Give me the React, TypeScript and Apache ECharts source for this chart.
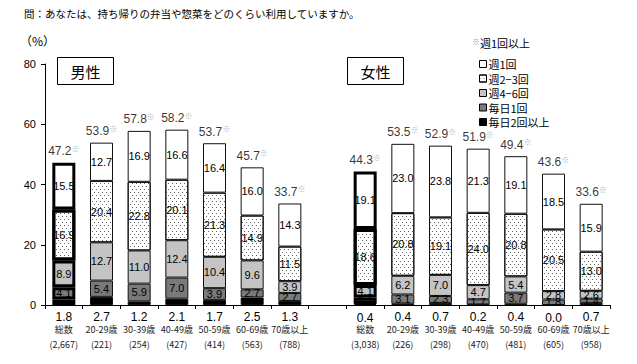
import React, { useEffect, useRef } from "react";
import * as echarts from "echarts";

const ageGroups = ["総数", "20-29歳", "30-39歳", "40-49歳", "50-59歳", "60-69歳", "70歳以上"];
const maleCounts = ["2,667", "221", "254", "427", "414", "563", "788"];
const femaleCounts = ["3,038", "226", "298", "470", "481", "605", "958"];

const seriesNames = ["毎日2回以上", "毎日1回", "週4−6回", "週2−3回", "週1回"];

const maleDaily2 = [1.8, 2.7, 1.2, 2.1, 1.7, 2.5, 1.3];
const maleDaily1 = [4.1, 5.4, 5.9, 7.0, 3.9, 2.7, 2.7];
const maleWeek46 = [8.9, 12.7, 11.0, 12.4, 10.4, 9.6, 3.9];
const maleWeek23 = [16.9, 20.4, 22.8, 20.1, 21.3, 14.9, 11.5];
const maleWeek1 = [15.5, 12.7, 16.9, 16.6, 16.4, 16.0, 14.3];
const maleTotal = [47.2, 53.9, 57.8, 58.2, 53.7, 45.7, 33.7];

const femaleDaily2 = [0.4, 0.4, 0.7, 0.2, 0.4, 0.0, 0.7];
const femaleDaily1 = [2.1, 3.1, 2.3, 1.7, 3.7, 1.8, 1.4];
const femaleWeek46 = [4.1, 6.2, 7.0, 4.7, 5.4, 2.8, 2.6];
const femaleWeek23 = [18.6, 20.8, 19.1, 24.0, 20.8, 20.5, 13.0];
const femaleWeek1 = [19.1, 23.0, 23.8, 21.3, 19.1, 18.5, 15.9];
const femaleTotal = [44.3, 53.5, 52.9, 51.9, 49.4, 43.6, 33.6];

const yTicks = [0, 20, 40, 60, 80];

const FONT_JP = '"Noto Sans CJK JP", "Noto Sans", sans-serif';
const FONT_NUM = '"Liberation Sans", Arial, sans-serif';

export default function App() {
  const ref = useRef<HTMLDivElement>(null);

  useEffect(() => {
    document.body.style.margin = "0";
    if (!ref.current) return;
    const chart = echarts.init(ref.current, null, { renderer: "svg" });

    const categories = [...ageGroups, "", ...ageGroups];
    const counts = [...maleCounts, "", ...femaleCounts];
    const totalIdx = new Set([0, 8]);
    const join = (m: number[], f: number[]) => [...m, null, ...f];

    const segData = [
      join(maleDaily2, femaleDaily2),
      join(maleDaily1, femaleDaily1),
      join(maleWeek46, femaleWeek46),
      join(maleWeek23, femaleWeek23),
      join(maleWeek1, femaleWeek1),
    ];
    const totals = join(maleTotal, femaleTotal);

    const fills = ["#000000", "#7a7a7a", "#c4c4c4", "#ffffff", "#ffffff"];

    const barSeries = segData.map((arr, si) => {
      const base: any = {
        name: seriesNames[si],
        type: "bar",
        stack: "s",
        barWidth: 23,
        itemStyle: {
          color: fills[si],
          borderColor: "#111",
          borderWidth: 1,
        },
        data: arr.map((v, i) =>
          v === null
            ? null
            : {
                value: v,
                itemStyle: totalIdx.has(i) ? { borderWidth: 3, borderColor: "#000" } : undefined,
              }
        ),
        label: {
          show: true,
          position: si === 0 ? "bottom" : "inside",
          distance: si === 0 ? 6 : 5,
          fontSize: si === 0 ? 12 : 11,
          fontFamily: FONT_NUM,
          color: "#000",
          formatter: (p: any) => (p.value === null || p.value === undefined ? "" : Number(p.value).toFixed(1)),
        },
      };
      if (si === 3) {
        base.itemStyle.decal = {
          symbol: "rect",
          symbolSize: 1,
          color: "#666",
          backgroundColor: "#ffffff",
          dashArrayX: [[1, 3], [0, 2, 1, 1]],
          dashArrayY: [1, 2],
          rotation: 0,
        };
      }
      return base;
    });

    const option: any = {
      animation: false,
      backgroundColor: "#ffffff",
      textStyle: { fontFamily: FONT_JP },
      grid: { left: 45, right: 27, top: 64, bottom: 59 },
      legend: {
        data: [...seriesNames].reverse(),
        orient: "vertical",
        left: 474,
        top: 53,
        itemWidth: 7,
        itemHeight: 7,
        itemGap: 2.5,
        selectedMode: false,
        icon: "rect",
        itemStyle: { borderWidth: 1, borderColor: "#000" },
        textStyle: { fontSize: 11, color: "#000", fontFamily: FONT_JP, lineHeight: 12, padding: [0, 0, 0, -3] },
      },
      xAxis: {
        type: "category",
        data: categories,
        axisLine: { show: true, lineStyle: { color: "#000", width: 1 } },
        axisTick: { show: true, interval: 0, length: 4, lineStyle: { color: "#000" } },
        axisLabel: {
          interval: 0,
          margin: 17,
          formatter: (val: string, idx: number) =>
            val ? `{n|${val}}\n{c|(${counts[idx]})}` : "",
          rich: {
            n: { fontSize: 9, lineHeight: 14, color: "#222", fontFamily: FONT_JP },
            c: { fontSize: 9, lineHeight: 16, color: "#222", fontFamily: FONT_JP },
          },
        },
      },
      yAxis: {
        type: "value",
        min: yTicks[0],
        max: yTicks[yTicks.length - 1],
        interval: 20,
        axisLine: { show: true, lineStyle: { color: "#000", width: 1 } },
        axisTick: { show: true, length: 4, lineStyle: { color: "#000" } },
        splitLine: { show: false },
        axisLabel: { fontSize: 11, color: "#000", fontFamily: FONT_NUM, margin: 9 },
      },
      series: [
        ...barSeries,
        {
          name: "total",
          type: "scatter",
          symbol: "rect",
          symbolSize: 1,
          itemStyle: { color: "rgba(0,0,0,0)" },
          data: totals,
          z: 5,
          label: {
            show: true,
            position: "top",
            distance: 4,
            formatter: (p: any) =>
              p.value === null || p.value === undefined ? "" : `{v|${Number(p.value).toFixed(1)}}{s|※}`,
            rich: {
              v: { fontSize: 12, color: "#000", fontFamily: FONT_NUM, lineHeight: 14 },
              s: { fontSize: 8, color: "#7f93b5", fontFamily: FONT_JP, lineHeight: 14, verticalAlign: "top" },
            },
          },
        },
      ],
      graphic: [
        {
          type: "text",
          left: 24,
          top: 8,
          style: { text: "問：あなたは、持ち帰りの弁当や惣菜をどのくらい利用していますか。", fill: "#000", font: `10.5px ${FONT_JP}` },
        },
        {
          type: "text",
          left: 20,
          top: 34,
          style: { text: "（%）", fill: "#000", font: `12px ${FONT_JP}` },
        },
        {
          type: "rect",
          shape: { x: 57.5, y: 57.5, width: 56, height: 27 },
          style: { fill: "#fff", stroke: "#000", lineWidth: 1 },
        },
        {
          type: "text",
          x: 85.5,
          y: 71,
          style: { text: "男性", fill: "#000", font: `15px ${FONT_JP}`, align: "center", verticalAlign: "middle" },
        },
        {
          type: "rect",
          shape: { x: 347.5, y: 57.5, width: 56, height: 27 },
          style: { fill: "#fff", stroke: "#000", lineWidth: 1 },
        },
        {
          type: "text",
          x: 375.5,
          y: 71,
          style: { text: "女性", fill: "#000", font: `15px ${FONT_JP}`, align: "center", verticalAlign: "middle" },
        },
        {
          type: "text",
          x: 472,
          y: 37,
          style: { text: "※", fill: "#7f93b5", font: `8px ${FONT_JP}` },
        },
        {
          type: "text",
          x: 480,
          y: 37,
          style: { text: "週1回以上", fill: "#000", font: `11px ${FONT_JP}` },
        },
      ],
    };

    chart.setOption(option);
    return () => chart.dispose();
  }, []);

  return <div ref={ref} style={{ width: 637, height: 364 }} />;
}
